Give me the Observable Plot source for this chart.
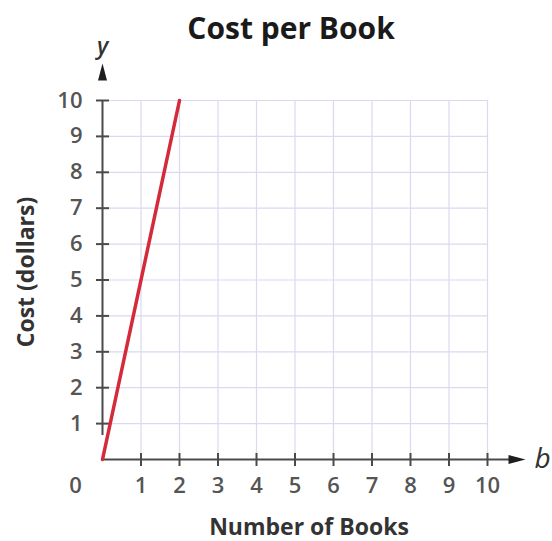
<!DOCTYPE html>
<html><head><meta charset="utf-8">
<script src="https://cdn.jsdelivr.net/npm/d3@7"></script>
<script src="https://cdn.jsdelivr.net/npm/@observablehq/plot@0.6"></script>
<style>body{margin:0;background:#fff}</style>
</head><body><div id="chart"></div>
<script>
const books = [0, 2];
const cost = [0, 10];
const xTicks = [1, 2, 3, 4, 5, 6, 7, 8, 9, 10];
const yTicks = [1, 2, 3, 4, 5, 6, 7, 8, 9, 10];
const originLabel = ["0"];
const titleText = "Cost per Book";
const xLabel = "Number of Books";
const yLabel = "Cost (dollars)";
const xVar = "b";
const yVar = "y";

const line = books.map((b, i) => ({b, c: cost[i]}));
const vTick = {draw(ctx, size) { const r = Math.sqrt(size / Math.PI); ctx.moveTo(0, -r); ctx.lineTo(0, r); }};
const hTick = {draw(ctx, size) { const r = Math.sqrt(size / Math.PI); ctx.moveTo(-r, 0); ctx.lineTo(r, 0); }};
const upHead = {draw(ctx) { ctx.moveTo(0, -9); ctx.lineTo(4.5, 8); ctx.lineTo(-4.5, 8); ctx.closePath(); }};
const rightHead = {draw(ctx) { ctx.moveTo(9, 0); ctx.lineTo(-8, 4.5); ctx.lineTo(-8, -4.5); ctx.closePath(); }};
const axisColor = "#4a4a4a";
const gridColor = "#d9d9f2";
const tickColor = "#555555";
const font = "'Open Sans', sans-serif";

const chart = Plot.plot({
  width: 552, height: 541,
  marginLeft: 102, marginRight: 65, marginTop: 100, marginBottom: 82,
  style: {fontFamily: font, background: "#fff"},
  x: {domain: [0, 10], axis: null},
  y: {domain: [0, 10], axis: null},
  marks: [
    Plot.ruleX(xTicks, {y1: 0, y2: 10, stroke: gridColor, strokeWidth: 1.2}),
    Plot.ruleY(yTicks, {x1: 0, x2: 10, stroke: gridColor, strokeWidth: 1.2}),
    Plot.ruleY([0], {x1: 0, x2: 10, insetRight: -26, stroke: axisColor, strokeWidth: 2}),
    Plot.ruleX([0], {y1: 0, y2: 10, insetTop: -24, stroke: axisColor, strokeWidth: 2}),
    Plot.dot([0], {x: 10, y: 0, dx: 29, symbol: rightHead, fill: "#1e1e1e", stroke: "none"}),
    Plot.dot([0], {x: 0, y: 10, dy: -28, symbol: upHead, fill: "#1e1e1e", stroke: "none"}),
    Plot.dot(xTicks, {x: d => d, y: 0, symbol: vTick, r: 6.5, stroke: axisColor, strokeWidth: 2, fill: "none"}),
    Plot.dot(yTicks, {x: 0, y: d => d, symbol: hTick, r: 6.5, stroke: axisColor, strokeWidth: 2, fill: "none"}),
    Plot.text(xTicks, {x: d => d, y: 0, text: d => String(d), dy: 26, fontSize: 22, fontWeight: 600, fill: tickColor}),
    Plot.text(yTicks, {x: 0, y: d => d, text: d => String(d), dx: -20, textAnchor: "end", fontSize: 22, fontWeight: 600, fill: tickColor}),
    Plot.text(originLabel, {x: 0, y: 0, text: d => d, dx: -27, dy: 26, fontSize: 22, fontWeight: 600, fill: tickColor}),
    Plot.line(line, {x: "b", y: "c", stroke: "#d42a3a", strokeWidth: 3.5}),
    Plot.text([xVar], {x: 10, y: 0, dx: 55, fontSize: 28, fontStyle: "italic", fill: "#333"}),
    Plot.text([yVar], {x: 0, y: 10, dx: 0, dy: -54, fontSize: 23, fontStyle: "italic", fontWeight: 600, fill: "#333"}),
    Plot.text([titleText], {frameAnchor: "top", lineAnchor: "middle", dx: -4, dy: -71, fontSize: 30, fontWeight: "bold", fill: "#1a1a1a"}),
    Plot.text([xLabel], {frameAnchor: "bottom", lineAnchor: "middle", dx: 14, dy: 68, fontSize: 23, fontWeight: "bold", fill: "#333"}),
    Plot.text([yLabel], {frameAnchor: "left", textAnchor: "middle", lineAnchor: "middle", dx: -76, dy: -8, rotate: -90, fontSize: 23, fontWeight: "bold", fill: "#333"})
  ]
});
document.getElementById("chart").append(chart);
</script>
</body></html>
